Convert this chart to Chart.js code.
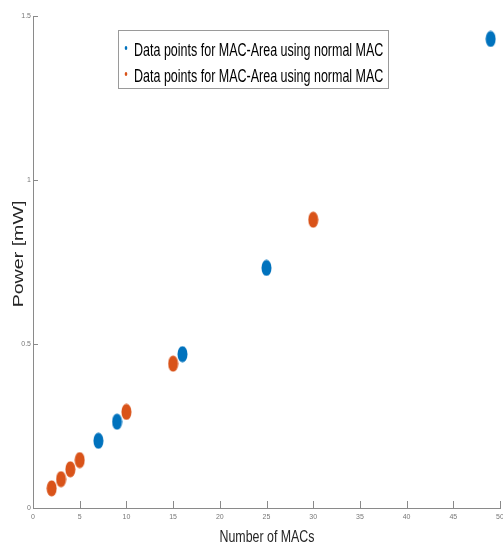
<!DOCTYPE html>
<html>
<head>
<meta charset="utf-8">
<script src="https://cdn.jsdelivr.net/npm/chart.js@4.4.1/dist/chart.umd.min.js"></script>
<style>
    html, body { margin: 0; padding: 0; background: #fff; }
    canvas { display: block; }
</style>
</head>
<body>
<canvas id="powerChart" width="503" height="544"></canvas>
<script>
// MAC count vs. power, two runs
const seriesLabels = [
    'Data points for MAC-Area using normal MAC',
    'Data points for MAC-Area using normal MAC'
];
const blueMacs = [7, 9, 16, 25, 49];
const bluePower = [0.205, 0.263, 0.469, 0.732, 1.43];
const orangeMacs = [2, 3, 4, 5, 10, 15, 30];
const orangePower = [0.060, 0.088, 0.118, 0.146, 0.293, 0.440, 0.879];
const xTicks = [0, 5, 10, 15, 20, 25, 30, 35, 40, 45, 50];
const yTicks = [0, 0.5, 1, 1.5];
const xTitle = 'Number of MACs';
const yTitle = 'Power [mW]';

const BLUE = '#0072BD';
const ORANGE = '#D95319';
const AXIS = '#8a8a8a';
const STRETCH = 1.4; // text in this figure is drawn tall and narrow
const FONT = '"Liberation Sans", Arial, Helvetica, sans-serif';

// tall oval marker
function ovalMarker(color) {
    const c = document.createElement('canvas');
    c.width = 11;
    c.height = 17;
    const g = c.getContext('2d');
    g.fillStyle = color;
    g.beginPath();
    g.ellipse(5.5, 8.5, 5, 8, 0, 0, Math.PI * 2);
    g.fill();
    return c;
}

function toPoints(xs, ys) {
    return xs.map((x, i) => ({ x: x, y: ys[i] }));
}

function stretchedText(ctx, text, x, y, size, rotated, align) {
    ctx.save();
    ctx.translate(x, y);
    if (rotated) {
        ctx.rotate(-Math.PI / 2);
        ctx.scale(STRETCH, 1);
    } else {
        ctx.scale(1, STRETCH);
    }
    ctx.font = size + 'px ' + FONT;
    ctx.textAlign = align || 'center';
    ctx.fillText(text, 0, 0);
    ctx.restore();
}

const figurePlugin = {
    id: 'figureDecor',
    afterDraw(chart) {
        const ctx = chart.ctx;
        const xs = chart.scales.x;
        const ys = chart.scales.y;
        const area = chart.chartArea;

        // inward tick marks
        ctx.save();
        ctx.strokeStyle = AXIS;
        ctx.lineWidth = 1;
        ctx.beginPath();
        xTicks.forEach(v => {
            const px = Math.round(xs.getPixelForValue(v)) + 0.5;
            ctx.moveTo(px, area.bottom);
            ctx.lineTo(px, area.bottom - 7);
        });
        yTicks.forEach(v => {
            const py = Math.round(ys.getPixelForValue(v)) + 0.5;
            ctx.moveTo(area.left, py);
            ctx.lineTo(area.left + 5, py);
        });
        ctx.stroke();
        ctx.restore();

        // axis titles
        ctx.save();
        ctx.fillStyle = '#262626';
        stretchedText(ctx, yTitle, 23, 254, 14, true);
        stretchedText(ctx, xTitle, 267, 542, 12.4, false);
        ctx.restore();

        // legend box
        ctx.save();
        ctx.fillStyle = '#fff';
        ctx.fillRect(118, 30, 270, 59);
        ctx.strokeStyle = '#9a9a9a';
        ctx.lineWidth = 1;
        ctx.strokeRect(118.5, 30.5, 270, 58);
        const baselines = [56, 82];
        chart.data.datasets.forEach((ds, i) => {
            ctx.fillStyle = ds.legendColor;
            ctx.beginPath();
            ctx.ellipse(126, baselines[i] - 8, 1.3, 1.9, 0, 0, Math.PI * 2);
            ctx.fill();
            ctx.fillStyle = '#000';
            stretchedText(ctx, ds.label, 134, baselines[i], 12.5, false, 'left');
        });
        ctx.restore();
    }
};

new Chart(document.getElementById('powerChart'), {
    type: 'scatter',
    data: {
        datasets: [
            { label: seriesLabels[0], data: toPoints(blueMacs, bluePower), pointStyle: ovalMarker(BLUE), legendColor: BLUE, backgroundColor: BLUE },
            { label: seriesLabels[1], data: toPoints(orangeMacs, orangePower), pointStyle: ovalMarker(ORANGE), legendColor: ORANGE, backgroundColor: ORANGE }
        ]
    },
    options: {
        responsive: false,
        animation: false,
        devicePixelRatio: 1,
        layout: { autoPadding: false, padding: { top: 16, right: 3, left: 0, bottom: 0 } },
        plugins: { legend: { display: false }, tooltip: { enabled: false } },
        scales: {
            x: {
                type: 'linear', min: 0, max: 50,
                afterBuildTicks: s => { s.ticks = xTicks.map(v => ({ value: v })); },
                afterFit: s => { s.height = 36; s.paddingLeft = 0; s.paddingRight = 0; },
                grid: { display: false, drawTicks: false },
                border: { display: true, color: AXIS, width: 1 },
                ticks: { font: { size: 7, family: FONT }, color: '#777', padding: 5, maxRotation: 0 }
            },
            y: {
                type: 'linear', min: 0, max: 1.5,
                afterBuildTicks: s => { s.ticks = yTicks.map(v => ({ value: v })); },
                afterFit: s => { s.width = 33; s.paddingTop = 0; s.paddingBottom = 0; },
                grid: { display: false, drawTicks: false },
                border: { display: true, color: AXIS, width: 1 },
                ticks: { font: { size: 7, family: FONT }, color: '#777', padding: 2, callback: v => String(v) }
            }
        }
    },
    plugins: [figurePlugin]
});
</script>
</body>
</html>
